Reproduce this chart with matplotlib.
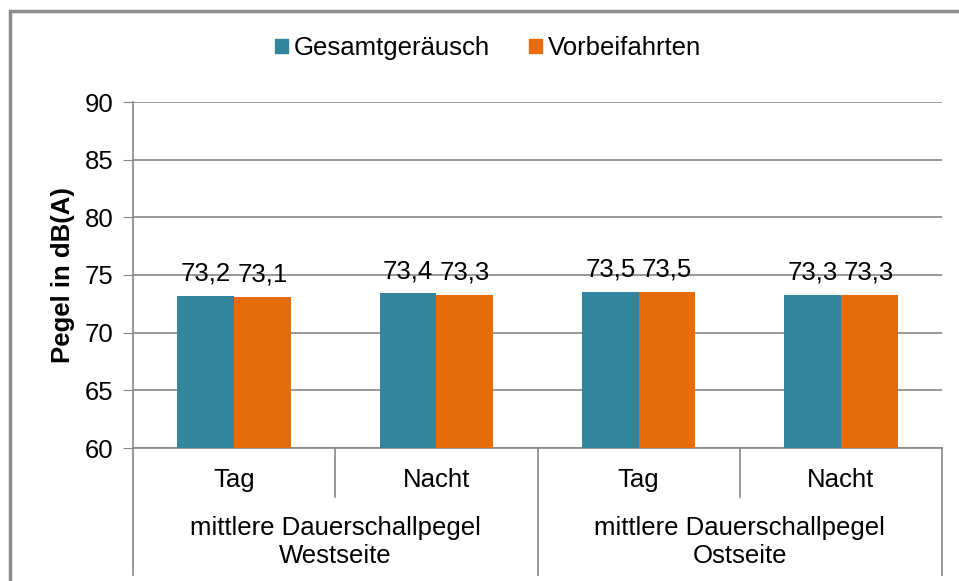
import matplotlib.pyplot as plt
import matplotlib.patches as mpatches
import numpy as np

plt.rcParams['font.family'] = ['Liberation Sans', 'DejaVu Sans']

# Daten
sub_labels = ['Tag', 'Nacht', 'Tag', 'Nacht']
group_labels = ['mittlere Dauerschallpegel\nWestseite', 'mittlere Dauerschallpegel\nOstseite']
gesamt = [73.2, 73.4, 73.5, 73.3]
vorbei = [73.1, 73.3, 73.5, 73.3]
series_names = ['Gesamtgeräusch', 'Vorbeifahrten']
colors = ['#31859C', '#E46C0A']

fs = 18.5

fig = plt.figure(figsize=(9.59, 5.81), dpi=100)
ax = fig.add_axes([133 / 959, 1 - 448 / 581, (942 - 133) / 959, 346 / 581])

x = np.arange(len(sub_labels))
w = 0.28
ax.bar(x - w / 2, gesamt, w, color=colors[0], zorder=3)
ax.bar(x + w / 2, vorbei, w, color=colors[1], zorder=3)

for xi, g, v in zip(x, gesamt, vorbei):
    ax.text(xi - w / 2, g + 0.9, f'{g:.1f}'.replace('.', ','), ha='center', va='bottom', fontsize=fs)
    ax.text(xi + w / 2, v + 0.9, f'{v:.1f}'.replace('.', ','), ha='center', va='bottom', fontsize=fs)

ax.set_xlim(-0.5, len(x) - 0.5)
ax.set_ylim(60, 90)
ax.set_yticks(range(60, 91, 5))
ax.tick_params(axis='y', labelsize=fs, length=7, color='#868686', pad=7)
ax.set_xticks([])
ax.yaxis.grid(True, color='#868686', lw=1.2, zorder=0)
for s in ['top', 'right']:
    ax.spines[s].set_visible(False)
for s in ['left', 'bottom']:
    ax.spines[s].set_color('#868686')
    ax.spines[s].set_linewidth(1.2)
ax.set_ylabel('Pegel in dB(A)', fontsize=fs, fontweight='bold')
ax.yaxis.set_label_coords(-0.072, 0.5)

# Kategorienachse mit zwei Ebenen
trans = ax.get_xaxis_transform()
for b in np.arange(-0.5, len(x), 1.0):
    depth = -0.367 if int(b + 0.5) % 2 == 0 else -0.1416
    ax.plot([b, b], [0, depth], color='#868686', lw=1.2, transform=trans, clip_on=False)
for xi, lab in zip(x, sub_labels):
    ax.text(xi, -0.093, lab, ha='center', va='center', fontsize=fs, transform=trans)
for gi, lab in enumerate(group_labels):
    ax.text(2 * gi + 0.5, -0.272, lab, ha='center', va='center', fontsize=fs,
            linespacing=1.2, transform=trans)

# Legende
handles = [mpatches.Patch(color=c, label=n) for c, n in zip(colors, series_names)]
fig.legend(handles=handles, loc='center', bbox_to_anchor=(488 / 959, 1 - 48 / 581), ncol=2,
           frameon=False, fontsize=fs, handlelength=0.5, handleheight=0.5,
           handletextpad=0.25, columnspacing=1.5)

# Rahmen
fig.patches.append(mpatches.Rectangle((10 / 959, -0.1), 1.0, 1 - 11 / 581 + 0.1,
                                      transform=fig.transFigure, fill=False,
                                      edgecolor='#8c8c8c', lw=2.5))

plt.savefig('out.png', dpi=100)
